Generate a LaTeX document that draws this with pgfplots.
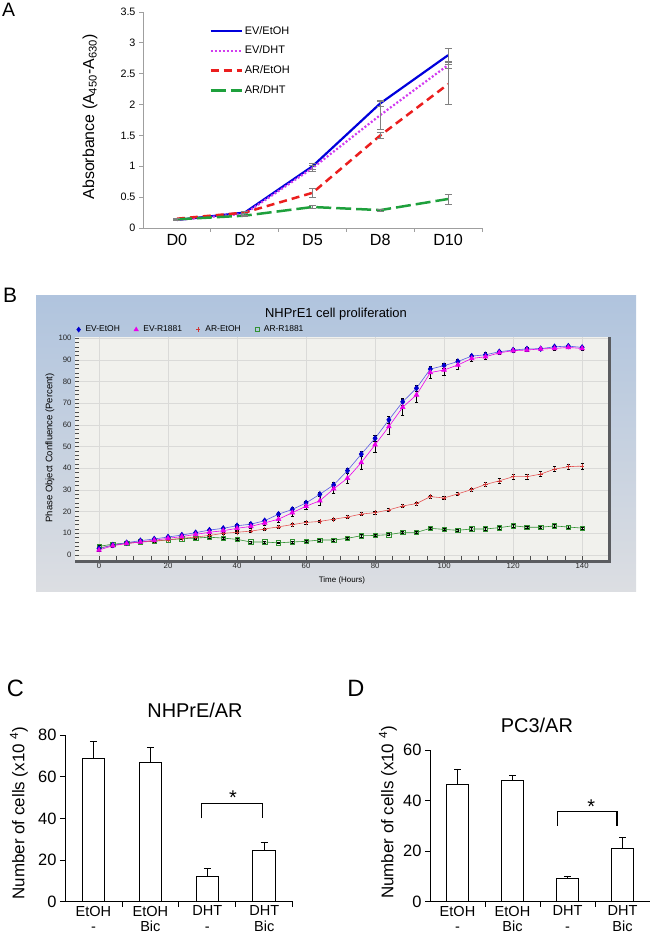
\documentclass[border=0pt]{standalone}
\usepackage{pgfplots}
\usepackage{pgfplotstable}
\pgfplotsset{compat=1.18}
\usepackage{fontspec}
\setmainfont{Liberation Sans}
\setsansfont{Liberation Sans}

\newcommand{\fs}[2]{\fontsize{#1}{#2}\selectfont}

% panel A
\definecolor{cBlue}{RGB}{0,0,220}
\definecolor{cViolet}{RGB}{210,60,240}
\definecolor{cRed}{RGB}{235,30,30}
\definecolor{cGreen}{RGB}{30,160,60}
% panel B
\definecolor{bTop}{RGB}{176,196,222}
\definecolor{bBot}{RGB}{220,222,226}
\definecolor{bPlot}{RGB}{241,241,237}
\definecolor{bGrid}{RGB}{218,218,216}
\definecolor{bFrame}{RGB}{90,92,96}
\definecolor{evEt}{RGB}{0,0,205}
\definecolor{evEtL}{RGB}{90,90,230}
\definecolor{evR}{RGB}{235,0,235}
\definecolor{arEt}{RGB}{205,55,55}
\definecolor{arEtL}{RGB}{230,90,90}
\definecolor{arR}{RGB}{50,145,50}

\pgfplotsset{
  markonly/.style={legend image code/.code={\draw[##1,/tikz/only marks] plot coordinates {(0bp,0bp)};}},
  errA/.style={error bars/.cd, y dir=both, y explicit,
    error bar style={gray, solid, line width=0.6pt},
    error mark options={rotate=90, gray, solid, mark size=3.5bp, line width=0.6pt}},
  errB/.style={error bars/.cd, y dir=both, y explicit,
    error bar style={black, solid, line width=0.5pt},
    error mark options={rotate=90, black, solid, mark size=1.6bp, line width=0.5pt}},
  cellbars/.style={
    scale only axis, anchor=south west,
    xmin=-0.5, xmax=3.5, ymin=0,
    axis x line*=bottom, axis y line*=left,
    axis line style={black, line width=0.8pt},
    xtick={0.5,1.5,2.5,3.5}, xticklabels={},
    extra x ticks={0,1,2,3},
    extra x tick labels={{EtOH\\-},{EtOH\\Bic},{DHT\\-},{DHT\\Bic}},
    extra x tick style={major tick length=0pt},
    tick align=outside, tick style={black, line width=0.8pt},
    major tick length=5bp,
    /pgf/number format/assume math mode=true,
    x tick label style={font=\fs{14.6}{15.5}, align=center, inner sep=0pt, yshift=-4bp},
    y tick label style={font=\fs{16.5}{18}},
    title style={font=\fs{20}{22}, anchor=base, yshift=12bp},
  },
  cellplot/.style={ybar, bar width=22.7bp, fill=white, draw=black, line width=0.8pt,
    error bars/.cd, y dir=plus, y explicit,
    error bar style={black, line width=0.8pt},
    error mark options={rotate=90, black, mark size=3.5bp, line width=0.8pt}},
}

% NHPrE1 confluence (percent) every 4 h; a EV-EtOH, b EV-R1881, c AR-EtOH, d AR-R1881
\pgfplotstableread{
t   a     ea   b     eb   c     ec   d     ed
0   3.0   0.4  2.3   0.5  3.2   0.4  4.0   0.4
4   4.6   0.4  4.3   0.5  4.5   0.4  5.0   0.4
8   5.7   0.4  5.3   0.5  5.3   0.4  5.5   0.4
12  6.6   0.4  6.0   0.5  6.0   0.4  6.0   0.4
16  7.4   0.4  6.8   0.6  6.5   0.4  6.3   0.4
20  8.3   0.5  7.7   0.6  7.0   0.4  7.0   0.4
24  9.2   0.5  8.5   0.6  7.7   0.4  7.5   0.4
28  10.3  0.5  9.5   0.7  8.3   0.4  7.8   0.4
32  11.5  0.6  10.5  0.8  9.0   0.5  8.2   0.4
36  12.3  0.6  11.2  0.8  10.0  0.5  7.8   0.4
40  13.5  0.6  12.3  0.9  10.5  0.5  7.2   0.4
44  14.2  0.7  13.2  1.0  11.0  0.5  6.0   0.4
48  15.8  0.8  14.8  1.2  12.0  0.5  6.0   0.4
52  18.8  0.8  16.5  1.3  13.0  0.5  5.6   0.4
56  21.0  0.9  19.5  1.5  14.0  0.6  6.0   0.4
60  24.0  1.0  22.5  1.6  15.0  0.6  6.3   0.4
64  28.0  1.0  25.0  2.0  15.5  0.6  6.9   0.4
68  32.3  1.2  30.5  2.0  16.5  0.6  6.9   0.4
72  38.9  1.2  35.4  2.5  17.5  0.6  7.7   0.4
76  46.5  1.2  42.6  3.0  18.9  0.6  8.9   0.5
80  53.8  1.5  50.8  3.5  19.5  0.6  9.0   0.5
84  62.3  1.5  59.2  3.5  20.8  0.7  9.4   0.5
88  70.6  1.5  68.1  3.5  22.6  0.7  10.4  0.5
92  76.9  1.5  73.8  3.5  23.7  0.7  10.4  0.5
96  85.7  1.5  84.1  2.5  26.9  0.8  12.3  0.6
100 87.3  1.2  85.3  2.5  26.3  0.8  11.8  0.6
104 89.2  1.2  87.6  2.0  28.2  0.8  11.4  0.6
108 91.7  1.0  90.6  1.5  30.2  0.8  12.0  0.6
112 92.3  1.0  91.4  1.0  32.5  1.0  12.0  0.6
116 93.7  0.8  93.2  0.8  34.2  1.0  12.6  0.6
120 94.5  0.8  94.2  0.8  36.1  1.2  13.5  0.6
124 95.0  0.6  94.5  0.6  36.1  1.2  12.8  0.6
128 95.1  0.6  95.0  0.6  37.3  1.2  12.8  0.6
132 96.0  0.6  95.2  0.6  39.6  1.2  13.4  0.6
136 96.3  0.6  95.7  0.6  40.7  1.2  12.9  0.6
140 95.7  0.6  95.2  0.6  41.0  1.3  12.4  0.6
}\dataB

\begin{document}
\begin{tikzpicture}
\path[use as bounding box] (0bp,0bp) rectangle (650bp,937bp);

% ---------------- A ----------------
\begin{axis}[
  at={(143bp,709bp)}, anchor=south west, scale only axis,
  width=339bp, height=216bp,
  xmin=-0.5, xmax=4.5, ymin=0, ymax=3.5,
  axis x line*=bottom, axis y line*=left,
  axis line style={draw=gray!75, line width=0.8pt},
  xtick={0.5,1.5,2.5,3.5,4.5}, xticklabels={},
  extra x ticks={0,1,2,3,4}, extra x tick labels={D0,D2,D5,D8,D10},
  extra x tick style={major tick length=0pt},
  ytick={0,0.5,...,3.5},
  tick align=outside, tick style={gray!75, line width=0.8pt},
  major tick length=4bp,
  /pgf/number format/assume math mode=true,
  x tick label style={font=\fs{16.2}{18}, yshift=-3bp},
  y tick label style={font=\fs{10.8}{12}},
  legend style={at={(0.195,0.945)}, anchor=north west, draw=none, fill=none,
    font=\fs{11}{13}, row sep=6.5bp, inner sep=0pt},
  legend cell align=left,
  legend image code/.code={\draw[#1] (0bp,0bp) -- (31bp,0bp);},
]
\addplot[cBlue, line width=2.2bp, errA] coordinates {
  (0,0.13) +- (0,0.01) (1,0.25) +- (0,0.02) (2,1.00) +- (0,0.05)
  (3,2.02) +- (0,0.05) (4,2.80) +- (0,0.11)};
\addlegendentry{EV/EtOH}
\addplot[cViolet, line width=2.2bp, dash pattern=on 2bp off 2bp, errA] coordinates {
  (0,0.13) +- (0,0.01) (1,0.23) +- (0,0.02) (2,0.97) +- (0,0.05)
  (3,1.83) +- (0,0.23) (4,2.64) +- (0,0.06)};
\addlegendentry{EV/DHT}
\addplot[cRed, line width=2.5bp, dash pattern=on 8bp off 5bp, errA] coordinates {
  (0,0.15) +- (0,0.01) (1,0.25) +- (0,0.02) (2,0.57) +- (0,0.07)
  (3,1.50) +- (0,0.05) (4,2.33) +- (0,0.33)};
\addlegendentry{AR/EtOH}
\addplot[cGreen, line width=2.5bp, dash pattern=on 15bp off 5bp, errA] coordinates {
  (0,0.14) +- (0,0.01) (1,0.20) +- (0,0.01) (2,0.34) +- (0,0.02)
  (3,0.29) +- (0,0.02) (4,0.47) +- (0,0.08)};
\addlegendentry{AR/DHT}
\end{axis}
\node[rotate=90, font=\fs{16}{18}] at (90bp,820bp)
  {Absorbance (A\textsubscript{450}-A\textsubscript{630})};
\node[font=\fs{19.5}{20}] at (8.5bp,927bp) {A};

% ---------------- B ----------------
\shade[top color=bTop, bottom color=bBot] (36bp,345bp) rectangle (636bp,641bp);
\begin{axis}[
  name=B, at={(75bp,377bp)}, anchor=south west, scale only axis,
  width=533bp, height=223bp,
  xmin=-6.96, xmax=147.5, ymin=-2.3, ymax=100.5,
  axis background/.style={fill=bPlot},
  axis line style={draw=none},
  xtick={0,20,...,140}, ytick={0,10,...,100},
  minor x tick num=3, minor y tick num=4,
  tick pos=left, tick align=inside,
  major tick length=4.3bp, minor tick length=4.3bp,
  tick style={black!70, line width=0.5pt},
  grid=major, major grid style={bGrid, line width=0.5pt},
  /pgf/number format/assume math mode=true,
  tick label style={font=\fs{7.8}{8}, black!85},
  legend columns=4,
  legend style={at={(0,1)}, anchor=south west, draw=none, fill=none,
    font=\fs{8.5}{9}, inner sep=1.5bp,
    /tikz/every odd column/.append style={column sep=3bp},
    /tikz/every even column/.append style={column sep=12bp}},
]
\addplot[forget plot, arR, line width=0.6pt, mark=square, mark size=2.2bp,
  mark options={arR, solid}, errB]
  table[x=t, y=d, y error=ed] {\dataB};
\addplot[forget plot, arEtL, line width=0.6pt, mark=+, mark size=2.3bp,
  mark options={arEt, solid}, errB]
  table[x=t, y=c, y error=ec] {\dataB};
\addplot[forget plot, evEtL, line width=0.6pt, mark=diamond*, mark size=2.8bp,
  mark options={evEt, fill=evEt, solid}, errB]
  table[x=t, y=a, y error=ea] {\dataB};
\addplot[forget plot, evR, line width=0.6pt, mark=triangle*, mark size=2.7bp,
  mark options={evR, fill=evR, solid}, errB]
  table[x=t, y=b, y error=eb] {\dataB};
\addlegendimage{markonly, mark=diamond*, evEt, fill=evEt, mark size=2.6bp}
\addlegendentry{EV-EtOH}
\addlegendimage{markonly, mark=triangle*, evR, fill=evR, mark size=2.6bp}
\addlegendentry{EV-R1881}
\addlegendimage{markonly, mark=+, arEt, mark size=2.2bp}
\addlegendentry{AR-EtOH}
\addlegendimage{markonly, mark=square, arR, mark size=2.1bp}
\addlegendentry{AR-R1881}
\end{axis}
\draw[bFrame, line width=3bp, line join=miter]
  ([yshift=-1.5bp]B.south west) -- ([xshift=1.5bp,yshift=-1.5bp]B.south east)
  -- ([xshift=1.5bp]B.north east);
\node[font=\fs{13}{14}] at (336bp,623bp) {NHPrE1 cell proliferation};
\node[font=\fs{8}{9}] at (342bp,357bp) {Time (Hours)};
\node[rotate=90, font=\fs{9.5}{10}] at (50bp,489bp) {Phase Object Confluence (Percent)};
\node[font=\fs{21}{22}] at (10bp,642bp) {B};

% ---------------- C ----------------
\begin{axis}[
  cellbars, at={(65bp,35.3bp)}, width=227.7bp, height=166.7bp,
  ymax=80, ytick={0,20,...,80},
  title={NHPrE/AR}, title style={at={(0.571,1)}},
]
\addplot[cellplot] coordinates {
  (0,69.0) +- (0,7.8) (1,66.8) +- (0,7.2) (2,12.0) +- (0,3.8) (3,24.4) +- (0,3.9)};
\draw[line width=1.3bp] (axis cs:1.9,40) -- (axis cs:1.9,47.2)
  -- (axis cs:2.97,47.2) -- (axis cs:2.97,40);
\node[font=\fs{20}{20}] at (axis cs:2.45,49.7) {*};
\end{axis}
\node[rotate=90, font=\fs{17}{18}] at (19bp,124bp) {Number of cells (x10 \textsuperscript{4})};
\node[font=\fs{23.7}{24}] at (15.5bp,249bp) {C};

% ---------------- D ----------------
\begin{axis}[
  cellbars, at={(430bp,35.3bp)}, width=220bp, height=151.7bp,
  ymax=60, ytick={0,20,...,60},
  title={PC3/AR}, title style={at={(0.486,1)}},
]
\addplot[cellplot] coordinates {
  (0,46.2) +- (0,6.3) (1,48.0) +- (0,2.1) (2,9.2) +- (0,1.0) (3,21.1) +- (0,4.2)};
\draw[line width=1.3bp] (axis cs:1.82,30) -- (axis cs:1.82,35.6)
  -- (axis cs:2.9,35.6) -- (axis cs:2.9,30);
\node[font=\fs{20}{20}] at (axis cs:2.43,37.6) {*};
\end{axis}
\node[rotate=90, font=\fs{17}{18}] at (388bp,124.5bp) {Number of cells (x10 \textsuperscript{4})};
\node[font=\fs{23.7}{24}] at (356bp,249bp) {D};
\end{tikzpicture}
\end{document}
